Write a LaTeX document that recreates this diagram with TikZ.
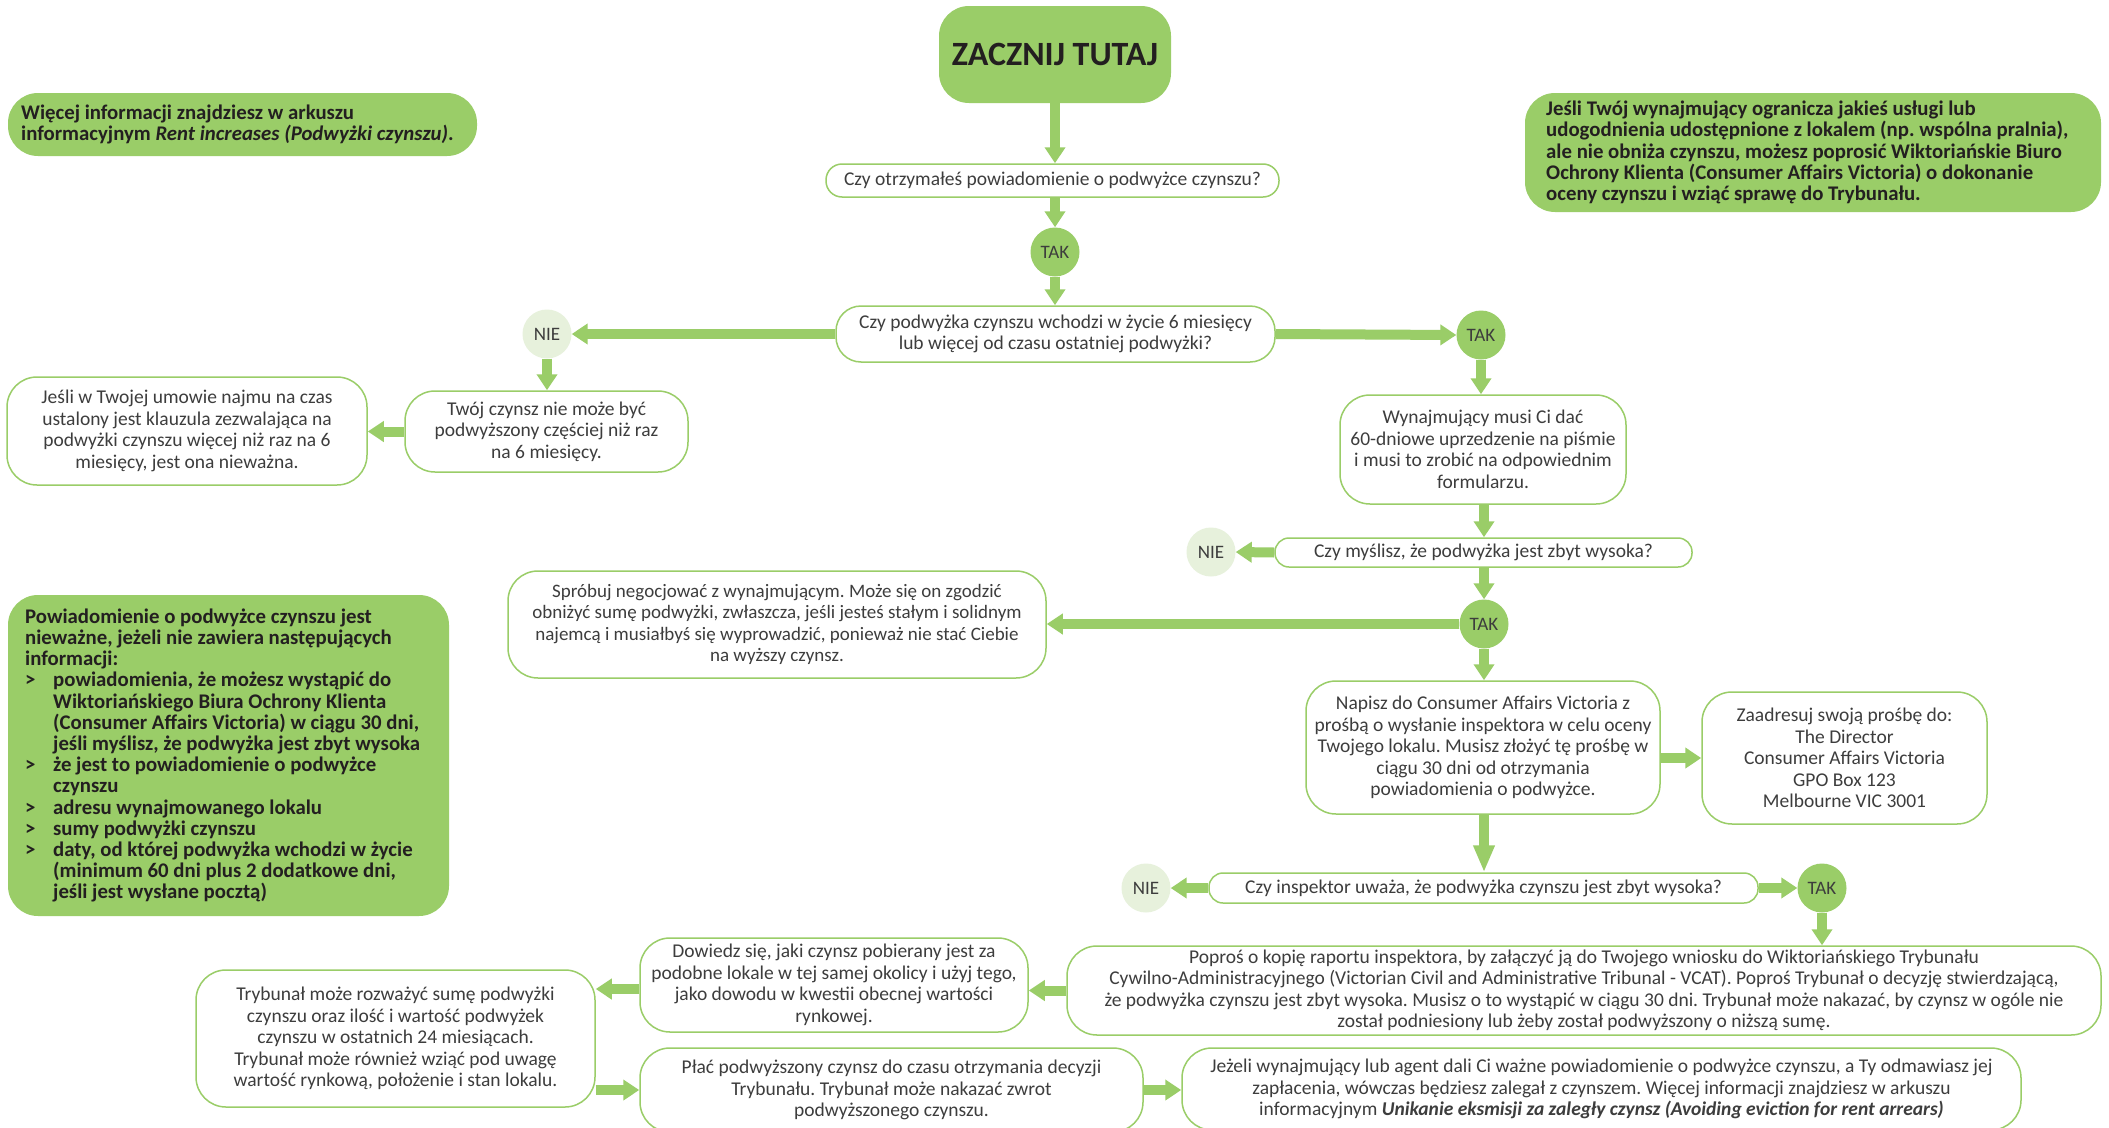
\documentclass[tikz,border=0pt]{standalone}
\usepackage{fontspec}
\setmainfont{Carlito}
\usetikzlibrary{arrows.meta}

\definecolor{leaf}{HTML}{9ACD68}
\definecolor{pale}{HTML}{E7F1DC}
\definecolor{ink}{HTML}{3D3D3D}
\definecolor{inkbold}{HTML}{231F20}

\newcommand{\itemmark}{\makebox[28pt][l]{>}}
\newcommand{\itemgap}{\hspace*{28pt}}

\tikzset{
  box/.style={draw=leaf, line width=1.5pt, fill=white, rounded corners=30pt,
    align=center, inner sep=0pt, text=ink, font=\fontsize{19.5}{21.5}\selectfont},
  pill/.style={box, rounded corners=14pt},
  yesdot/.style={circle, fill=leaf, minimum size=49pt, inner sep=0pt,
    text=ink, font=\fontsize{19}{21.5}\selectfont},
  nodot/.style={yesdot, fill=pale},
  infofill/.style={fill=leaf, rounded corners=30pt},
  infotext/.style={anchor=west, align=left, inner sep=0pt,
    text=inkbold, font=\fontsize{20.8}{21.2}\selectfont\bfseries},
  flow/.style={leaf, line width=10pt, -{Triangle[width=20pt,length=16pt]}},
}

\begin{document}
\frenchspacing
\begin{tikzpicture}[x=1pt, y=-1pt]

    %----- PAGE -----
    \useasboundingbox (0,0) rectangle (2109,1127);
    \clip (0,0) rectangle (2109,1127);
    \fill[white] (0,0) rectangle (2109,1127);

    %----- SIDE NOTES -----
    \fill[infofill] (8,93) rectangle (477,156);
    \node[infotext] (note1) at (21,124.5)
        {Więcej informacji znajdziesz w arkuszu\\
         informacyjnym \textit{Rent increases (Podwyżki czynszu)}.};
    \fill[infofill] (1525,93) rectangle (2101,212);
    \node[infotext] (note2) at (1546,152.5)
        {Jeśli Twój wynajmujący ogranicza jakieś usługi lub\\
         udogodnienia udostępnione z lokalem (np. wspólna pralnia),\\
         ale nie obniża czynszu, możesz poprosić Wiktoriańskie Biuro\\
         Ochrony Klienta (Consumer Affairs Victoria) o dokonanie\\
         oceny czynszu i wziąć sprawę do Trybunału.};
    \fill[infofill] (8,595) rectangle (449,916);
    \node[infotext] (note3) at (25,755.5)
        {Powiadomienie o podwyżce czynszu jest\\
         nieważne, jeżeli nie zawiera następujących\\
         informacji:\\
         \itemmark powiadomienia, że możesz wystąpić do\\
         \itemgap Wiktoriańskiego Biura Ochrony Klienta\\
         \itemgap (Consumer Affairs Victoria) w ciągu 30 dni,\\
         \itemgap jeśli myślisz, że podwyżka jest zbyt wysoka\\
         \itemmark że jest to powiadomienie o podwyżce\\
         \itemgap czynszu\\
         \itemmark adresu wynajmowanego lokalu\\
         \itemmark sumy podwyżki czynszu\\
         \itemmark daty, od której podwyżka wchodzi w życie\\
         \itemgap (minimum 60 dni plus 2 dodatkowe dni,\\
         \itemgap jeśli jest wysłane pocztą)};

    %----- START AND FIRST QUESTIONS -----
    \node[fill=leaf, rounded corners=30pt, minimum width=232pt, minimum height=97pt,
          text=inkbold, font=\fontsize{34}{40}\selectfont\bfseries] (start) at (1055,54.5) {ZACZNIJ TUTAJ};
    \node[pill, rounded corners=16pt, minimum width=453pt, minimum height=33pt] (q1) at (1052.5,180.5)
        {Czy otrzymałeś powiadomienie o podwyżce czynszu?};
    \node[yesdot] (tak1) at (1055,252) {TAK};
    \node[box, rounded corners=25pt, minimum width=439pt, minimum height=56pt] (q2) at (1055.5,334)
        {Czy podwyżka czynszu wchodzi w życie 6 miesięcy\\ lub więcej od czasu ostatniej podwyżki?};

    %----- LEFT BRANCH -----
    \node[nodot] (nie1) at (547,334) {NIE};
    \node[box, minimum width=283pt, minimum height=81pt] (twoj) at (546.5,431.5)
        {Twój czynsz nie może być\\ podwyższony częściej niż raz\\ na 6 miesięcy.};
    \node[box, minimum width=360pt, minimum height=108pt] (jesli) at (187,431)
        {Jeśli w Twojej umowie najmu na czas\\ ustalony jest klauzula zezwalająca na\\
         podwyżki czynszu więcej niż raz na 6\\ miesięcy, jest ona nieważna.};

    %----- RIGHT BRANCH -----
    \node[yesdot] (tak2) at (1481,335) {TAK};
    \node[box, minimum width=286pt, minimum height=109pt] (wynaj) at (1483,449.5)
        {Wynajmujący musi Ci dać\\ 60-dniowe uprzedzenie na piśmie\\
         i musi to zrobić na odpowiednim\\ formularzu.};
    \node[pill, minimum width=417pt, minimum height=29pt] (q3) at (1483.5,552.5)
        {Czy myślisz, że podwyżka jest zbyt wysoka?};
    \node[nodot] (nie2) at (1211,552) {NIE};
    \node[yesdot] (tak3) at (1484,624) {TAK};
    \node[box, minimum width=538pt, minimum height=107pt,
          font=\fontsize{19}{21.5}\selectfont] (sprob) at (777,624.5)
        {Spróbuj negocjować z wynajmującym. Może się on zgodzić\\
         obniżyć sumę podwyżki, zwłaszcza, jeśli jesteś stałym i solidnym\\
         najemcą i musiałbyś się wyprowadzić, ponieważ nie stać Ciebie\\ na wyższy czynsz.};
    \node[box, minimum width=354pt, minimum height=133pt] (napisz) at (1483,747.5)
        {Napisz do Consumer Affairs Victoria z\\ prośbą o wysłanie inspektora w celu oceny\\
         Twojego lokalu. Musisz złożyć tę prośbę w\\ ciągu 30 dni od otrzymania\\
         powiadomienia o podwyżce.};
    \node[box, minimum width=285pt, minimum height=132pt] (zaadr) at (1844.5,758)
        {Zaadresuj swoją prośbę do:\\ The Director\\ Consumer Affairs Victoria\\
         GPO Box 123\\ Melbourne VIC 3001};

    %----- INSPECTOR -----
    \node[pill, minimum width=549pt, minimum height=30pt] (q4) at (1483.5,888)
        {Czy inspektor uważa, że podwyżka czynszu jest zbyt wysoka?};
    \node[nodot] (nie3) at (1146,888) {NIE};
    \node[yesdot] (tak4) at (1822,888) {TAK};

    %----- TRIBUNAL -----
    \node[box, minimum width=1034pt, minimum height=89pt] (popros) at (1584,990.5)
        {Poproś o kopię raportu inspektora, by załączyć ją do Twojego wniosku do Wiktoriańskiego Trybunału\\
         Cywilno-Administracyjnego (Victorian Civil and Administrative Tribunal - VCAT). Poproś Trybunał o decyzję stwierdzającą,\\
         że podwyżka czynszu jest zbyt wysoka. Musisz o to wystąpić w ciągu 30 dni. Trybunał może nakazać, by czynsz w ogóle nie\\
         został podniesiony lub żeby został podwyższony o niższą sumę.};
    \node[box, minimum width=388pt, minimum height=94pt] (dowiedz) at (834,985)
        {Dowiedz się, jaki czynsz pobierany jest za\\ podobne lokale w tej samej okolicy i użyj tego,\\
         jako dowodu w kwestii obecnej wartości\\ rynkowej.};
    \node[box, minimum width=399pt, minimum height=137pt] (trybunal) at (395.5,1038.5)
        {Trybunał może rozważyć sumę podwyżki\\ czynszu oraz ilość i wartość podwyżek\\
         czynszu w ostatnich 24 miesiącach.\\ Trybunał może również wziąć pod uwagę\\
         wartość rynkową, położenie i stan lokalu.};
    \node[box, minimum width=503pt, minimum height=84pt] (plac) at (891.5,1090)
        {Płać podwyższony czynsz do czasu otrzymania decyzji\\ Trybunału. Trybunał może nakazać zwrot\\
         podwyższonego czynszu.};
    \node[box, minimum width=839pt, minimum height=82pt] (jezeli) at (1601.5,1089)
        {Jeżeli wynajmujący lub agent dali Ci ważne powiadomienie o podwyżce czynszu, a Ty odmawiasz jej\\
         zapłacenia, wówczas będziesz zalegał z czynszem. Więcej informacji znajdziesz w arkuszu\\
         informacyjnym \textbf{\textit{Unikanie eksmisji za zaległy czynsz (Avoiding eviction for rent arrears)}}};

    %----- ARROWS -----
    \draw[flow] (start.south) -- (start.south |- q1.north);
    \draw[flow] (q1.south -| tak1) -- (tak1.north);
    \draw[flow] (tak1.south) -- (tak1.south |- q2.north);
    \draw[flow] (q2.west) -- (nie1.east);
    \draw[flow] (q2.east) -- (tak2.west);
    \draw[flow] (nie1.south) -- (nie1.south |- twoj.north);
    \draw[flow] (twoj.west) -- (twoj.west -| jesli.east);
    \draw[flow] (tak2.south) -- (tak2.south |- wynaj.north);
    \draw[flow] (wynaj.south -| tak3) -- (tak3 |- q3.north);
    \draw[flow] (q3.west) -- (nie2.east);
    \draw[flow] (q3.south -| tak3) -- (tak3.north);
    \draw[flow] (tak3.west) -- (tak3.west -| sprob.east);
    \draw[flow] (tak3.south) -- (tak3.south |- napisz.north);
    \draw[flow] (zaadr.west -| napisz.east) -- (zaadr.west);
    \draw[flow, -{Triangle[width=20pt,length=27pt]}] (napisz.south -| tak3) -- (tak3 |- q4.north);
    \draw[flow] (q4.west) -- (nie3.east);
    \draw[flow] (q4.east) -- (tak4.west);
    \draw[flow] (tak4.south) -- (tak4.south |- popros.north);
    \draw[flow] (popros.west) -- (popros.west -| dowiedz.east);
    \draw[flow] (dowiedz.west |- 0,989) -- (trybunal.east |- 0,989);
    \draw[flow] (trybunal.east |- plac.west) -- (plac.west);
    \draw[flow] (plac.east) -- (plac.east -| jezeli.west);

\end{tikzpicture}
\end{document}
